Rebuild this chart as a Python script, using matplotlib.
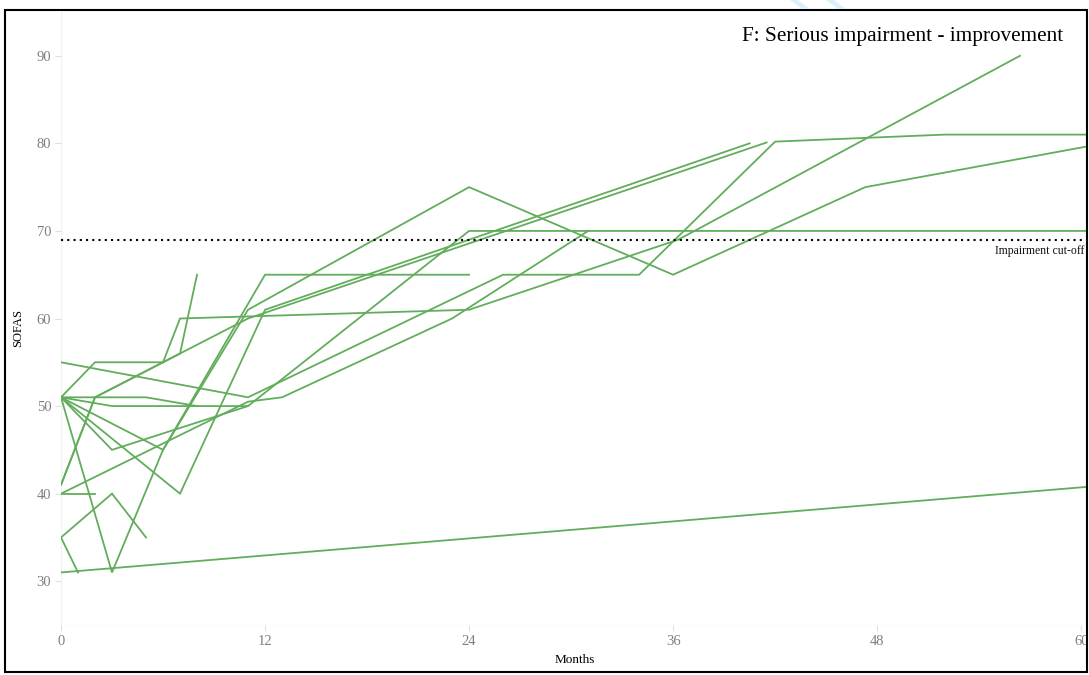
import matplotlib.pyplot as plt
from matplotlib.patches import Rectangle, Polygon

# SOFAS trajectories per patient (months since baseline, score)
months = [
    [0, 60.5],
    [0, 1],
    [0, 3, 5],
    [0, 2],
    [0, 2, 7, 8],
    [0, 11, 26, 34, 42, 47, 52, 60.5],
    [0, 2, 6, 7, 24, 36.3, 56.4],
    [0, 3, 6, 11, 24, 36, 47.3, 60.5],
    [0, 7, 12, 40.5],
    [0, 6, 12, 24],
    [0, 3, 11, 24, 60.5],
    [0, 3, 11],
    [0, 2, 11, 41.5],
    [0, 11, 13, 23, 31],
    [0, 5, 8],
]
sofas = [
    [31, 40.8],
    [35, 31],
    [35, 40, 35],
    [40, 40],
    [41, 51, 56, 65],
    [55, 51, 65, 65, 80.2, 80.6, 81, 81],
    [51, 55, 55, 60, 61, 69, 90],
    [51, 31, 45, 61, 75, 65, 75, 79.7],
    [51, 40, 61, 80],
    [51, 45, 65, 65],
    [51, 45, 50, 70, 70],
    [51, 50, 50],
    [41, 51, 60, 80.1],
    [40, 50.5, 51, 60, 70],
    [51, 51, 50],
]
cutoff = 69
x_ticks = [0, 12, 24, 36, 48, 60]
y_ticks = [30, 40, 50, 60, 70, 80, 90]

plt.rcParams['font.family'] = ['Liberation Serif', 'DejaVu Serif']

fig = plt.figure(figsize=(10.89, 6.75), dpi=100)
ax = fig.add_axes([61 / 1089, 50 / 675, 1027 / 1089, 613 / 675])

for m, s in zip(months, sofas):
    ax.plot(m, s, color='#62ad5c', lw=1.3, solid_joinstyle='miter')

# cut-off reference line
ax.axhline(cutoff, xmin=0, xmax=0.995, color='black', lw=1.5, linestyle=(0, (1, 2)))
ax.text(60.2, cutoff - 0.6, 'Impairment cut-off', ha='right', va='top',
        fontsize=8.5, color='#111111')

ax.set_xlim(0, 60.4)
ax.set_ylim(25, 95)
ax.set_xticks(x_ticks)
ax.set_yticks(y_ticks)
for side in ['top', 'right', 'bottom', 'left']:
    ax.spines[side].set_visible(False)
ax.axvline(0, color='#f2f2f2', lw=1, zorder=0)
ax.axhline(25, color='#f2f2f2', lw=1, zorder=0)
ax.tick_params(colors='#e0e0e0', labelcolor='#7c7f86', labelsize=10.5, length=4, width=0.8, pad=3)

fig.text(18 / 1089, 1 - 328 / 675, 'SOFAS', rotation=90, ha='center', va='center', fontsize=9)
fig.text(575 / 1089, 1 - 660 / 675, 'Months', ha='center', va='center', fontsize=9.5)
fig.text(1063 / 1089, 1 - 37 / 675, 'F: Serious impairment - improvement',
         ha='right', va='center', fontsize=15.3)

# outer frame of the panel
fig.patches.append(Rectangle((5 / 1089, 3 / 675), 1082 / 1089, 662 / 675,
                             transform=fig.transFigure, fill=False,
                             edgecolor='black', lw=1.5))

# faint stamp strokes above the frame
for x0 in (790, 826):
    fig.patches.append(Polygon([((x0) / 1089, 1.0), ((x0 + 8) / 1089, 1.0),
                                ((x0 + 20) / 1089, 1 - 9 / 675), ((x0 + 12) / 1089, 1 - 9 / 675)],
                               closed=True, transform=fig.transFigure,
                               facecolor='#d9f1fb', edgecolor='none'))

fig.savefig('out.png', dpi=100)
